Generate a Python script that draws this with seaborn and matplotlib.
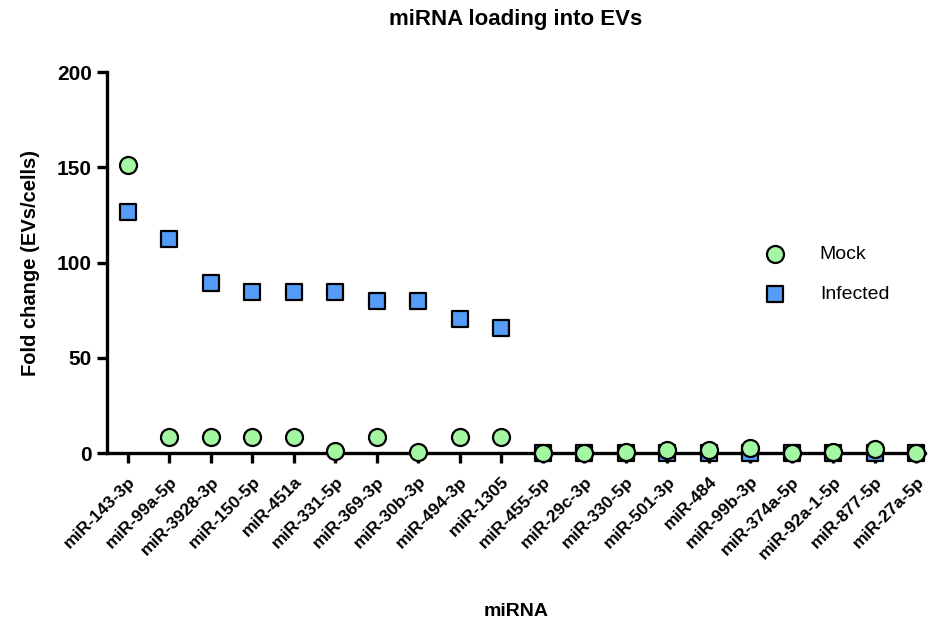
import matplotlib
matplotlib.use("Agg")
import matplotlib.pyplot as plt
import seaborn as sns
import pandas as pd

mirnas = ["miR-143-3p", "miR-99a-5p", "miR-3928-3p", "miR-150-5p", "miR-451a",
          "miR-331-5p", "miR-369-3p", "miR-30b-3p", "miR-494-3p", "miR-1305",
          "miR-455-5p", "miR-29c-3p", "miR-330-5p", "miR-501-3p", "miR-484",
          "miR-99b-3p", "miR-374a-5p", "miR-92a-1-5p", "miR-877-5p", "miR-27a-5p"]
mock = [151, 8.5, 8.5, 8.5, 8.5, 1.0, 8.5, 0.3, 8.5, 8.5,
        0.0, 0.0, 0.5, 1.5, 1.5, 2.5, 0.0, 0.5, 2.0, 0.0]
infected = [126.5, 112.5, 89, 84.5, 84.5, 84.5, 80, 80, 70.5, 65.5,
            0.0, 0.0, 0.0, 0.0, 0.0, 0.0, 0.0, 0.0, 0.0, 0.0]

df = pd.DataFrame({
    "miRNA": mirnas * 2,
    "value": infected + mock,
    "group": ["Infected"] * len(mirnas) + ["Mock"] * len(mirnas),
})
df["x"] = df["miRNA"].map({m: i for i, m in enumerate(mirnas)})

sns.set_theme(style="white")
plt.rcParams["font.family"] = ["Liberation Sans", "DejaVu Sans"]
plt.rcParams["text.color"] = "black"
plt.rcParams["axes.labelcolor"] = "black"
plt.rcParams["xtick.color"] = "black"
plt.rcParams["ytick.color"] = "black"

fig = plt.figure(figsize=(9.32, 6.22), dpi=100)
ax = fig.add_axes([0.115, 0.2717, 0.877, 0.6125])

palette = {"Mock": "#a3f7a3", "Infected": "#549cf8"}
markers = {"Mock": "o", "Infected": "s"}
# squares first, circles drawn on top
for grp, zo in [("Infected", 3), ("Mock", 4)]:
    sub = df[df["group"] == grp]
    sns.scatterplot(data=sub, x="x", y="value", ax=ax, color=palette[grp],
                    marker=markers[grp], s=150 if grp == "Mock" else 140,
                    edgecolor="black", linewidth=1.6, zorder=zo,
                    clip_on=False, label=grp)

ax.set_xlim(-0.5, 19.2)
ax.set_ylim(0, 200)
ax.set_yticks([0, 50, 100, 150, 200])
ax.set_xticks(range(len(mirnas)))
ax.set_xticklabels(mirnas, rotation=45, ha="right", rotation_mode="anchor",
                   fontsize=12.5, fontweight="bold")
for lab in ax.get_yticklabels():
    lab.set_fontsize(15)
    lab.set_fontweight("bold")

for side in ["top", "right"]:
    ax.spines[side].set_visible(False)
for side in ["left", "bottom"]:
    ax.spines[side].set_linewidth(2.4)
    ax.spines[side].set_color("black")
ax.tick_params(axis="both", which="major", direction="out", length=7,
               width=2.4, color="black", bottom=True, left=True, pad=4)
ax.tick_params(axis="x", pad=8)

ax.set_xlabel("miRNA", fontsize=14, fontweight="bold", labelpad=30)
ax.set_ylabel("Fold change (EVs/cells)", fontsize=14.5, fontweight="bold", labelpad=12)
ax.set_title("miRNA loading into EVs", fontsize=16, fontweight="bold", pad=34)

handles, labels = ax.get_legend_handles_labels()
order = [labels.index("Mock"), labels.index("Infected")]
ax.legend([handles[i] for i in order], [labels[i] for i in order],
          loc="center left", bbox_to_anchor=(0.772, 0.47), frameon=False,
          fontsize=14, handletextpad=1.3, labelspacing=1.15, markerscale=1.0)

fig.savefig("out.png", dpi=100)
